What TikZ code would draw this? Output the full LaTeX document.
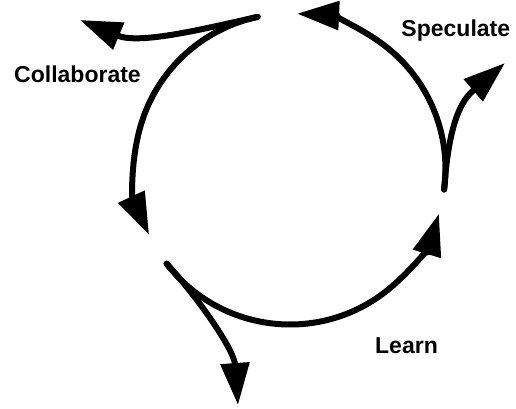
\documentclass[tikz,border=0pt]{standalone}
\usepackage{fontspec}
\setmainfont{Liberation Sans}
\usetikzlibrary{arrows.meta}
\begin{document}
\begin{tikzpicture}[x=1pt,y=1pt,
  cyc/.style={line width=6pt, line cap=round, -{Triangle[length=42pt,width=28pt]}},
  lbl/.style={font=\fontsize{23}{27}\selectfont\bfseries, anchor=base, inner sep=0pt}]
\useasboundingbox (0,0) rectangle (516,408);
\coordinate (c) at (290,239);
\coordinate (a1s) at ([shift={(102:155.5)}]c);
\coordinate (a2s) at ([shift={(217.5:155.5)}]c);
\coordinate (a3s) at ([shift={(352.4:155.5)}]c);
% circle arcs
\draw[cyc] (a1s) arc[start angle=102, end angle=205, radius=155.5];
\draw[cyc] (a2s) arc[start angle=217.5, end angle=343.3, radius=155.5];
\draw[cyc] (a3s) arc[start angle=352.4, end angle=447.4, radius=155.5];
% branches
\coordinate (b1) at (80,388);
\coordinate (b2) at (505,345);
\coordinate (b3) at (238,3);
\draw[cyc] (a1s) .. controls (207,380) and (140,363) .. (b1);
\draw[cyc] (a3s) .. controls (449,288) and (462,308) .. (b2);
\draw[cyc] (a2s) .. controls (200,108) and (234,58) .. (b3);
% labels
\node[lbl] (collab) at (77.5,326) {Collaborate};
\node[lbl] (spec) at (455.8,371.3) {Speculate};
\node[lbl] (learn) at (406.5,54.7) {Learn};
\end{tikzpicture}
\end{document}
